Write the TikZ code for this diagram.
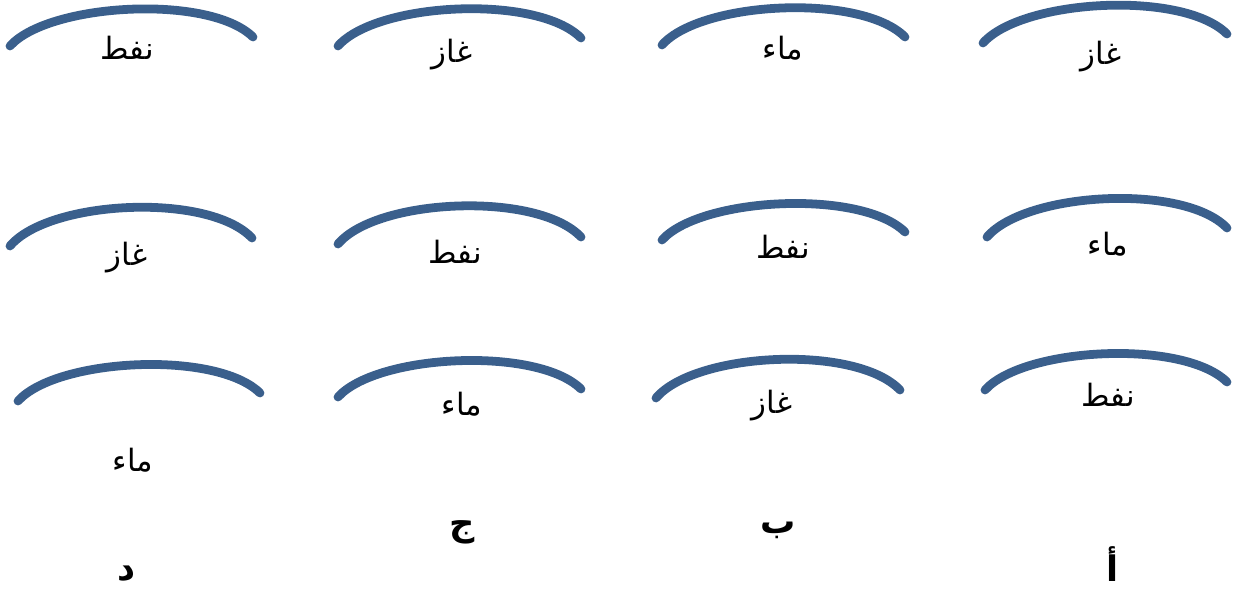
\documentclass[tikz,border=0pt]{standalone}
\usepackage{fontspec}
\TeXXeTstate=1
\newfontfamily\arabicfont[Script=Arabic]{DejaVu Sans}
\definecolor{arcblue}{RGB}{58,95,140}
\tikzset{
  bow/.style={draw=arcblue,line width=5pt,line cap=round},
  lbl/.style={font=\arabicfont\fontsize{17.5}{20}\selectfont,inner sep=0pt},
  key/.style={font=\arabicfont\bfseries\fontsize{20}{22}\selectfont,inner sep=0pt}
}
% #1 x-left, #2 y-left, #3 x-right, #4 y-right, #5 rise of controls
\newcommand{\bowarc}[5]{%
  \draw[bow] (#1,#2) .. controls ({#1+0.16*(#3-#1)},{#2-#5}) and ({#3-0.18*(#3-#1)},{#4-#5}) .. (#3,#4);}
\begin{document}
\begin{tikzpicture}[x=0.02cm,y=-0.02cm]
\useasboundingbox (0,0) rectangle (1234,592);
% row 1
\bowarc{10}{46}{253}{37}{43}
\bowarc{338}{46}{581}{38}{44}
\bowarc{662}{45}{905}{37}{44}
\bowarc{983}{43}{1227}{34}{44}
% row 2
\bowarc{10}{246}{252}{238}{46}
\bowarc{338}{244}{581}{237}{46}
\bowarc{662}{240}{905}{232}{43}
\bowarc{987}{237}{1227}{228}{45}
% row 3
\bowarc{18}{401}{260}{393}{43}
\bowarc{338}{397}{581}{389}{43}
\bowarc{656}{398}{900}{390}{46}
\bowarc{985}{390}{1227}{382}{43}
% labels row 1
\node[lbl] (d1) at (127,48) {\beginR نفط\endR};
\node[lbl] (c1) at (452,55) {\beginR غاز\endR};
\node[lbl] (b1) at (783,48) {\beginR ماء\endR};
\node[lbl] (a1) at (1101,57) {\beginR غاز\endR};
% labels row 2
\node[lbl] (d2) at (127,258) {\beginR غاز\endR};
\node[lbl] (c2) at (455,252) {\beginR نفط\endR};
\node[lbl] (b2) at (783,247) {\beginR نفط\endR};
\node[lbl] (a2) at (1108,244) {\beginR ماء\endR};
% labels row 3
\node[lbl] (d3) at (133,460) {\beginR ماء\endR};
\node[lbl] (c3) at (462,404) {\beginR ماء\endR};
\node[lbl] (b3) at (772,406) {\beginR غاز\endR};
\node[lbl] (a3) at (1108,395) {\beginR نفط\endR};
% keys
\node[key] (kd) at (127,574) {\beginR د\endR};
\node[key] (kc) at (462,532) {\beginR ج\endR};
\node[key] (kb) at (778,530) {\beginR ب\endR};
\node[key] (ka) at (1113,564) {\beginR أ\endR};
\end{tikzpicture}
\end{document}
